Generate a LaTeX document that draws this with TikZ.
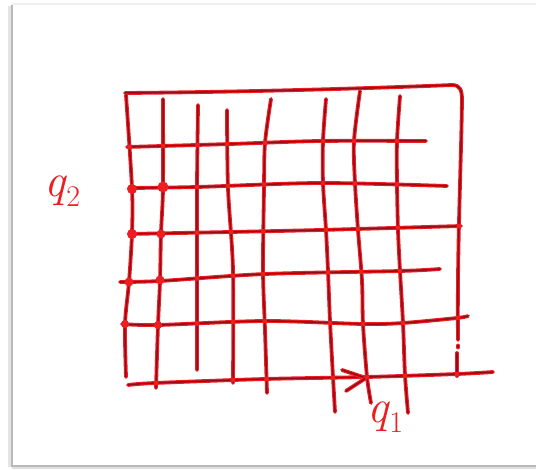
\documentclass[tikz,border=0pt]{standalone}
\usetikzlibrary{intersections}
\definecolor{inkcore}{RGB}{150,10,22}
\definecolor{inkglow}{RGB}{236,30,34}
\definecolor{framegray}{RGB}{185,185,185}
\newcommand{\qsub}[1]{{\fontsize{47}{47}\selectfont\itshape q}\kern1pt\raisebox{-10pt}{\fontsize{30}{30}\selectfont #1}}
\begin{document}
\begin{tikzpicture}[x=1pt,y=-1pt,
  pen/.style={draw=inkcore,line width=1.5pt,line cap=round,line join=round,
    preaction={draw=inkglow,line width=3.8pt,line cap=round}},
  knot/.style={fill=inkglow},
  qlabel/.style={anchor=base west,inner sep=0pt,text=inkglow}]
\fill[white] (0,0) rectangle (536,470);
\useasboundingbox (0,0) rectangle (536,470);
% photo frame
\draw[gray!12,line width=2pt] (12,4) -- (536,4);
\draw[gray!20,line width=3pt] (9,6) -- (9,467);
\draw[framegray,line width=2pt] (12,5) -- (12,466) -- (536,466);
\draw[gray!25,line width=2pt] (12,468.5) -- (536,468.5);
% top edge and right edge
\draw[pen,name path=rr] (125,93) .. controls (250,92) and (380,88) .. (452,85)
  .. controls (460,85) and (462,90) .. (462,100)
  .. controls (461,170) and (457,250) .. (458,340);
\draw[pen,name path=rs] (457,353) -- (457,376);
\draw[pen] (458,345.5) -- (458,347.5);
% vertical lines
\draw[pen,name path=v0] plot[smooth] coordinates {(126,95) (132,188) (132,233) (129,282) (125,324) (126,377)};
\draw[pen,name path=v1] plot[smooth] coordinates {(163,99) (163,188) (161,233) (160,281) (158,325) (156,388)};
\draw[pen,name path=v2] plot[smooth] coordinates {(198,105) (197,188) (197,270) (197,370)};
\draw[pen,name path=v3] plot[smooth] coordinates {(227,110) (228,188) (233,270) (233,383)};
\draw[pen,name path=v4] plot[smooth] coordinates {(271,99) (265,143) (264,188) (263,270) (265,330) (267,393)};
\draw[pen,name path=v5] plot[smooth] coordinates {(326,99) (323,141) (323,183) (326,230) (328,271) (330,321) (333,377) (335,412)};
\draw[pen,name path=v6] plot[smooth] coordinates {(360,91) (354,141) (355,183) (358,230) (362,281) (363,324) (367,377) (371,403)};
\draw[pen,name path=v7] plot[smooth] coordinates {(400,96) (397,141) (397,183) (398,230) (400,271) (403,323) (405,375) (408,413)};
% horizontal lines
\draw[pen,name path=h1] plot[smooth] coordinates {(127,147) (230,144) (320,141) (426,141)};
\draw[pen,name path=h2] plot[smooth] coordinates {(129,188) (197,187) (320,183) (447,186)};
\draw[pen,name path=h3] plot[smooth] coordinates {(129,234) (230,232) (320,230) (461,226)};
\draw[pen,name path=h4] plot[smooth] coordinates {(120,282) (160,281) (265,274) (400,271) (440,269)};
\draw[pen,name path=h5] plot[smooth] coordinates {(122,324) (158,325) (265,321) (363,324) (403,323) (457,318) (468,316)};
% q1 axis with arrow
\draw[pen,name path=ax] plot[smooth] coordinates {(128,385) (155,383) (265,379) (367,377) (457,374) (493,372)};
\coordinate (tip) at (366,378);
\coordinate (barbA) at (342,370);
\coordinate (barbB) at (346,391);
\draw[pen] (barbA) -- (tip);
\draw[pen] (barbB) -- (tip);
% crossing glows
\foreach \hh in {h1,h2,h3,h4,h5,ax}{
  \foreach \vv in {v0,v1,v2,v3,v4,v5,v6,v7,rr,rs}{
    \path[name intersections/.expanded={of=\hh\space and \vv,total=\noexpand\t}] \pgfextra{\xdef\nt{\t}};
    \ifnum\nt>0 \fill[knot] (intersection-1) circle (2.4pt);\fi
  }
}
% sample points
\fill[knot] (132,189) circle (5pt);
\fill[knot] (163,187) circle (5.5pt);
\fill[knot] (132,234) circle (5pt);
\fill[knot] (161,234) circle (4.5pt);
\fill[knot] (129,282) circle (4.5pt);
\fill[knot] (160,280) circle (4.5pt);
\fill[knot] (125,324) circle (4pt);
\fill[knot] (158,325) circle (4pt);
% labels
\node[qlabel] (q2) at (44,197) {\qsub{2}};
\node[qlabel] (q1) at (367,423) {\qsub{1}};
\end{tikzpicture}
\end{document}
